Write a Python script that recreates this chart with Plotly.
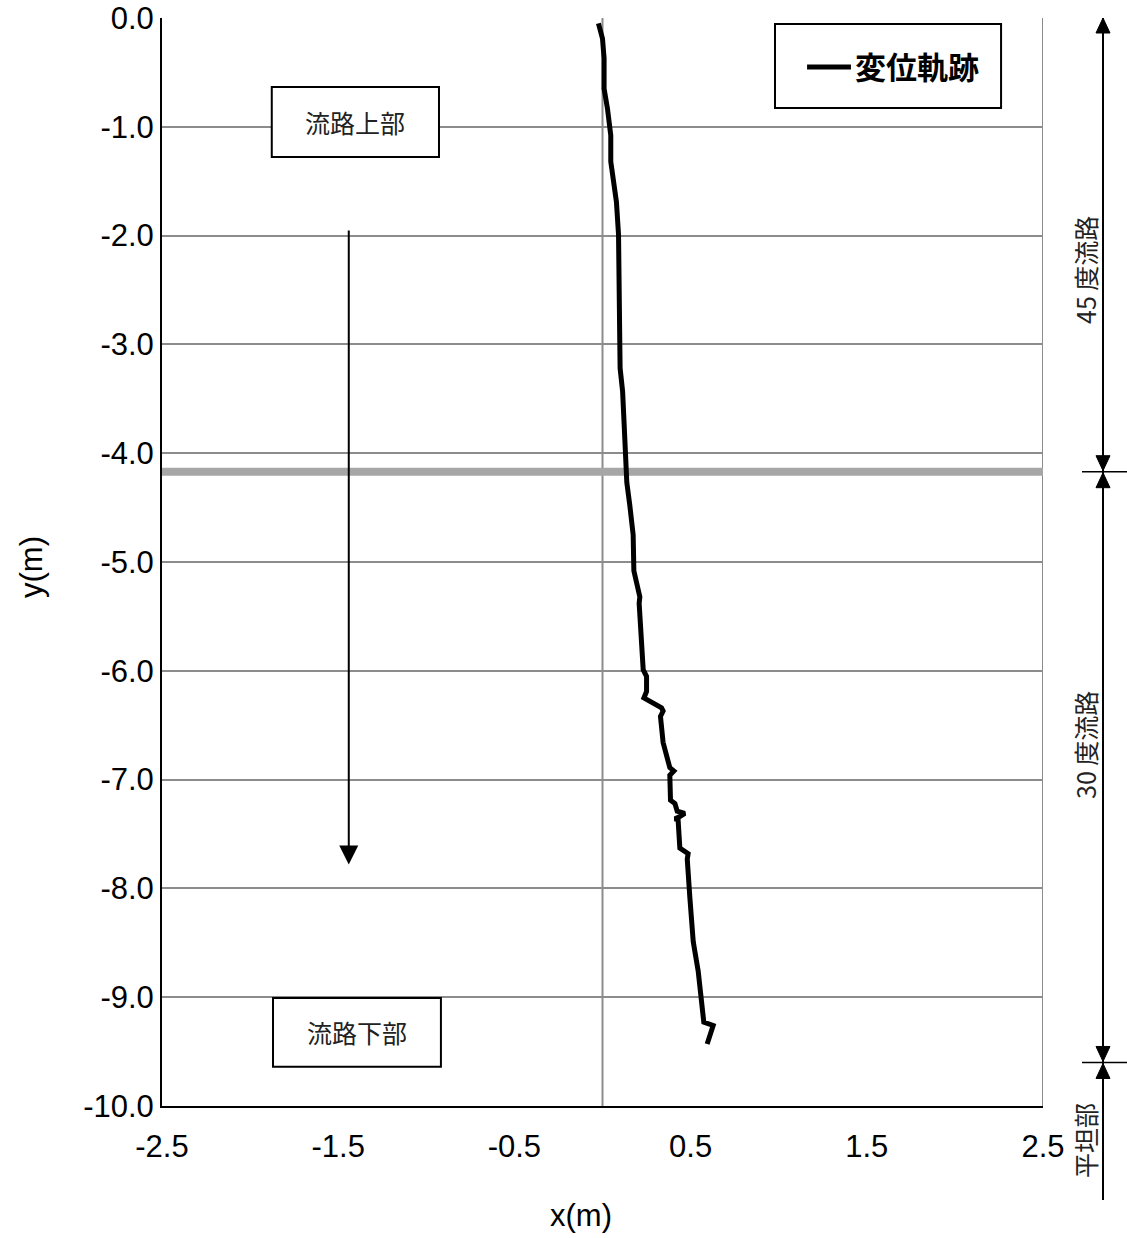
import plotly.graph_objects as go

# Displacement trajectory (m)
traj_x = [-0.023, 0.000, 0.009, 0.009, 0.028, 0.047, 0.047, 0.066, 0.079, 0.091,
          0.091, 0.098, 0.095, 0.098, 0.100, 0.114, 0.123, 0.129, 0.138, 0.155,
          0.174, 0.178, 0.212, 0.208, 0.221, 0.231, 0.250, 0.250, 0.235, 0.335,
          0.344, 0.329, 0.344, 0.382, 0.405, 0.382, 0.386, 0.411, 0.424, 0.467,
          0.439, 0.411, 0.429, 0.439, 0.486, 0.481, 0.496, 0.515, 0.543, 0.575,
          0.628, 0.594]
traj_y = [-0.05, -0.19, -0.37, -0.65, -0.83, -1.08, -1.32, -1.50, -1.69, -1.99,
          -2.27, -2.45, -2.67, -2.97, -3.22, -3.43, -3.74, -4.13, -4.27, -4.48,
          -4.75, -5.08, -5.32, -5.38, -5.72, -5.99, -6.05, -6.19, -6.25, -6.34,
          -6.37, -6.42, -6.66, -6.89, -6.92, -6.96, -7.19, -7.22, -7.29, -7.31,
          -7.34, -7.36, -7.37, -7.63, -7.68, -7.73, -8.09, -8.49, -8.76, -9.23,
          -9.26, -9.43]

series_name = "変位軌跡"
x_ticks = [-2.5, -1.5, -0.5, 0.5, 1.5, 2.5]
y_ticks = [0, -1, -2, -3, -4, -5, -6, -7, -8, -9, -10]
boundary_y = -4.17          # 45° / 30° channel boundary
flat_start_y = -9.6         # start of flat section
flow_arrow_x = -1.44
flow_arrow_from, flow_arrow_to = -1.94, -7.78
section_labels = ["45 度流路", "30 度流路", "平坦部"]
upper_label, lower_label = "流路上部", "流路下部"

JP = "Noto Sans CJK JP"
LAT = "Liberation Sans, Arial"

fig = go.Figure()
fig.add_trace(go.Scatter(x=traj_x, y=traj_y, mode="lines", name=series_name,
                         line=dict(color="black", width=5), showlegend=False))

shapes = []
# vertical reference at x=0 and right frame
for xv in (0.0, 2.5):
    shapes.append(dict(type="line", xref="x", yref="y", x0=xv, x1=xv, y0=-10, y1=0,
                       line=dict(color="#8c8c8c", width=2), layer="below"))
# boundary line
shapes.append(dict(type="line", xref="x", yref="y", x0=-2.5, x1=2.5,
                   y0=boundary_y, y1=boundary_y,
                   line=dict(color="#a6a6a6", width=8), layer="below"))
# text boxes
for (x0, x1, y0, y1) in [(-1.877, -0.928, -0.634, -1.278), (-1.870, -0.917, -9.007, -9.640)]:
    shapes.append(dict(type="rect", xref="x", yref="y", x0=x0, x1=x1, y0=y0, y1=y1,
                       line=dict(color="black", width=2), fillcolor="white"))
# legend box and sample line
shapes.append(dict(type="rect", xref="x", yref="y", x0=0.979, x1=2.262, y0=-0.055, y1=-0.827,
                   line=dict(color="black", width=2), fillcolor="white"))
shapes.append(dict(type="line", xref="x", yref="y", x0=1.161, x1=1.410, y0=-0.45, y1=-0.45,
                   line=dict(color="black", width=5)))

# section dimension lines on the right (paper coordinates)
def px_x(p):
    return (p - 162) / 881.0

def py_y(p):
    return (1106 - p) / 1088.0

vx = px_x(1103)
shapes.append(dict(type="line", xref="paper", yref="paper", x0=vx, x1=vx,
                   y0=1.0, y1=py_y(1200), line=dict(color="black", width=2)))
for yv in (boundary_y, flat_start_y):
    yp = (yv + 10) / 10
    shapes.append(dict(type="line", xref="paper", yref="paper", x0=px_x(1082), x1=px_x(1127),
                       y0=yp, y1=yp, line=dict(color="black", width=1.5)))

hw = 7 / 881.0
hl = 15 / 1088.0

def head(tip_y, up):
    base = tip_y - hl if up else tip_y + hl
    return dict(type="path", xref="paper", yref="paper",
                path=f"M {vx},{tip_y} L {vx - hw},{base} L {vx + hw},{base} Z",
                fillcolor="black", line=dict(color="black", width=1))

b_p = (boundary_y + 10) / 10
f_p = (flat_start_y + 10) / 10
shapes += [head(1.0, True), head(b_p + 1 / 1088, False), head(b_p - 1 / 1088, True),
           head(f_p + 1 / 1088, False), head(f_p - 1 / 1088, True)]


def label(x, y, text, size, family=JP, angle=0, xanchor="center", ref="paper", color="#222"):
    return dict(x=x, y=y, xref=ref, yref=ref, text=text, showarrow=False,
                xanchor=xanchor, yanchor="middle", textangle=angle,
                font=dict(family=family, size=size, color=color))


annotations = [
    dict(x=flow_arrow_x, y=flow_arrow_to, ax=flow_arrow_x, ay=flow_arrow_from,
         xref="x", yref="y", axref="x", ayref="y", text="", showarrow=True,
         arrowhead=2, arrowsize=1.9, arrowwidth=2, arrowcolor="black"),
    label((-1.877 - 0.928) / 2, (-0.634 - 1.278) / 2, upper_label, 25, ref="x"),
    label((-1.870 - 0.917) / 2, (-9.007 - 9.640) / 2, lower_label, 25, ref="x"),
    label(px_x(853), py_y(66), f"<b>{series_name}</b>", 31, xanchor="left", color="black"),
    label(px_x(1085), py_y(270), section_labels[0], 25, angle=-90),
    label(px_x(1085), py_y(745), section_labels[1], 25, angle=-90),
    label(px_x(1085), py_y(1141), section_labels[2], 25, angle=-90),
    label(px_x(31), py_y(567), "y(m)", 31, family=LAT, angle=-90, color="black"),
    label(px_x(581), py_y(1215), "x(m)", 31, family=LAT, color="black"),
]
# annotations using data refs need matching axis names
for a in annotations:
    if a.get("xref") == "x" and a.get("yref") == "x":
        a["yref"] = "y"

fig.update_layout(
    width=1127, height=1238,
    margin=dict(l=162, r=84, t=18, b=132, autoexpand=False),
    paper_bgcolor="white", plot_bgcolor="white",
    shapes=shapes, annotations=annotations,
    xaxis=dict(range=[-2.5, 2.5], tickvals=x_ticks, ticktext=[f"{v:.1f}" for v in x_ticks],
               showgrid=False, zeroline=False, showline=True, linecolor="black", linewidth=2,
               ticks="", tickfont=dict(family=LAT, size=31, color="black"),
               ticklabelstandoff=12, automargin=False),
    yaxis=dict(range=[-10, 0], tickvals=y_ticks, ticktext=[f"{v:.1f}" for v in y_ticks],
               showgrid=True, gridcolor="#8c8c8c", gridwidth=2, zeroline=False,
               showline=True, linecolor="black", linewidth=2, automargin=False,
               ticks="", tickfont=dict(family=LAT, size=31, color="black")),
    showlegend=False,
)

fig.write_html("out.html")
